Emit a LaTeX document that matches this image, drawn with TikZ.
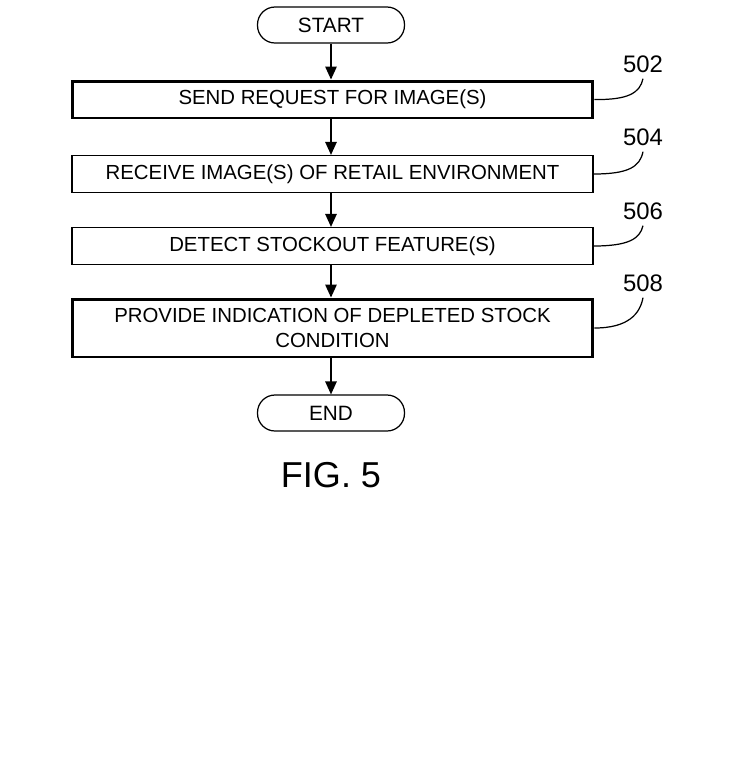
\documentclass[tikz,border=0pt]{standalone}
\usepackage{fontspec}
\setmainfont{Liberation Sans}
\usetikzlibrary{arrows.meta}

\begin{document}
\begin{tikzpicture}[x=0.02cm,y=-0.02cm,
  term/.style={draw,line width=0.7pt,rounded corners=0.35cm,minimum width=2.94cm,minimum height=0.72cm,font=\fontsize{11.8}{13}\selectfont},
  stepbox/.style={draw,line width=0.7pt,minimum width=10.42cm,minimum height=0.74cm,align=center,font=\fontsize{11.6}{14.5}\selectfont},
  bold/.style={line width=1.7pt},
  num/.style={font=\fontsize{13.6}{15}\selectfont},
  flow/.style={line width=0.8pt,-{Triangle[length=0.26cm,width=0.23cm]}},
  lead/.style={line width=0.7pt}]
\useasboundingbox (0,0) rectangle (730,779);
\node[term] (start) at (331,25) {START};
\node[stepbox,bold] (s502) at (332.5,99.5) {SEND REQUEST FOR IMAGE(S)};
\node[stepbox] (s504) at (332.5,174) {RECEIVE IMAGE(S) OF RETAIL ENVIRONMENT};
\node[stepbox] (s506) at (332.5,246) {DETECT STOCKOUT FEATURE(S)};
\node[stepbox,bold,minimum height=1.16cm] (s508) at (332.5,328) {PROVIDE INDICATION OF DEPLETED STOCK\\CONDITION};
\node[term] (end) at (331,413) {END};
\node[font=\fontsize{20.5}{24}\selectfont] (fig) at (331,475) {FIG. 5};
\draw[flow] (start.south) -- (start.south |- s502.north);
\draw[flow] (start.south |- s502.south) -- (start.south |- s504.north);
\draw[flow] (start.south |- s504.south) -- (start.south |- s506.north);
\draw[flow] (start.south |- s506.south) -- (start.south |- s508.north);
\draw[flow] (start.south |- s508.south) -- (end.north);
\node[num] (n502) at (643,64) {502};
\node[num] (n504) at (643,137) {504};
\node[num] (n506) at (643,211) {506};
\node[num] (n508) at (643,283) {508};
\draw[lead] (s502.east) .. controls (628,100) and (640,93) .. (n502.south);
\draw[lead] (s504.east) .. controls (628,174) and (640,167) .. (n504.south);
\draw[lead] (s506.east) .. controls (628,246) and (640,239) .. (n506.south);
\draw[lead] (s508.east) .. controls (628,328) and (640,314) .. (n508.south);
\end{tikzpicture}
\end{document}
